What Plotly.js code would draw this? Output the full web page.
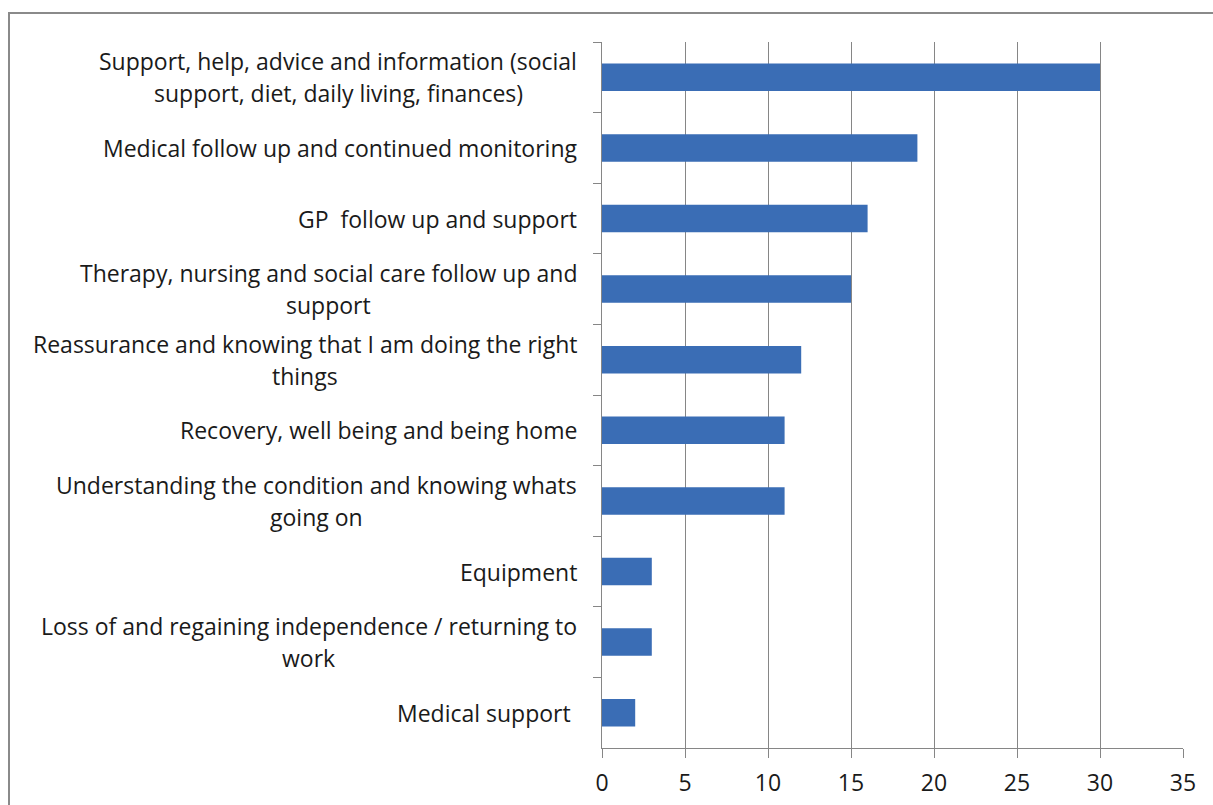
<!DOCTYPE html>
<html>
<head>
<meta charset="utf-8">
<script src="https://cdn.plot.ly/plotly-3.0.1.min.js"></script>
<style>
html,body{margin:0;padding:0;background:#fff;overflow:hidden;}
#chart{width:1213px;height:805px;}
</style>
</head>
<body>
<div id="chart"></div>
<script>
// Data
var categories = [
  "Support, help, advice and information (social\nsupport, diet, daily living, finances)",
  "Medical follow up and continued monitoring",
  "GP\u00a0 follow up and support",
  "Therapy, nursing and social care follow up and\nsupport",
  "Reassurance and knowing that I am doing the right\nthings",
  "Recovery, well being and being home",
  "Understanding the condition and knowing whats\ngoing on",
  "Equipment",
  "Loss of and regaining independence / returning to\nwork",
  "Medical support\u00a0"
];
var values = [30, 19, 16, 15, 12, 11, 11, 3, 3, 2];
var xTicks = [0, 5, 10, 15, 20, 25, 30, 35];

var ids = categories.map(function(c, i){ return "c" + i; });

var fontFam = "'Open Sans', sans-serif";
var fontSize = 23;
var textColor = "#1a1a1a";
var gray = "#868686";

var canvas = document.createElement("canvas");
var ctx = canvas.getContext("2d");
ctx.font = fontSize + "px 'Open Sans'";

var annotations = [];
var gapRight = 25; // px between label block and axis
categories.forEach(function(label, i){
  var lines = label.split("\n");
  var n = lines.length;
  var spacing = 32;
  var blockW = Math.max.apply(null, lines.map(function(l){ return ctx.measureText(l).width; }));
  lines.forEach(function(line, k){
    annotations.push({
      xref: "paper", yref: "y",
      x: 0, y: ids[i],
      xanchor: "center", yanchor: "middle",
      xshift: -(gapRight + blockW / 2),
      yshift: ((n - 1) / 2 - k) * spacing,
      text: line,
      showarrow: false,
      align: "center",
      font: {family: fontFam, size: fontSize, color: textColor}
    });
  });
});

var trace = {
  type: "bar",
  orientation: "h",
  x: values,
  y: ids,
  marker: {color: "#3a6db5", line: {width: 0}},
  hoverinfo: "x"
};

var layout = {
  width: 1213, height: 805,
  margin: {l: 602, r: 30, t: 42, b: 57, pad: 0},
  paper_bgcolor: "#fff", plot_bgcolor: "#fff",
  showlegend: false,
  bargap: 0.61,
  font: {family: fontFam, size: fontSize, color: textColor},
  xaxis: {
    range: [0, 35],
    tickvals: xTicks,
    ticktext: xTicks.map(String),
    showgrid: true, gridcolor: gray, gridwidth: 1,
    zeroline: false,
    showline: true, linecolor: gray, linewidth: 1,
    ticks: "outside", ticklen: 9, tickcolor: gray, tickwidth: 1,
    ticklabelstandoff: 5,
    tickfont: {family: fontFam, size: fontSize, color: textColor},
    fixedrange: true
  },
  yaxis: {
    type: "category",
    categoryorder: "array",
    categoryarray: ids,
    autorange: "reversed",
    showticklabels: false,
    tickson: "boundaries",
    ticks: "outside", ticklen: 8, tickcolor: gray, tickwidth: 1,
    showgrid: false, zeroline: false,
    showline: true, linecolor: gray, linewidth: 1,
    fixedrange: true
  },
  annotations: annotations,
  shapes: [{
    type: "rect", xref: "paper", yref: "paper",
    x0: (9 - 602) / 581, x1: 2,
    y0: -0.5, y1: (748 - 13) / 706,
    line: {color: "#8a8a8a", width: 2},
    fillcolor: "rgba(0,0,0,0)",
    layer: "below"
  }]
};

Plotly.newPlot("chart", [trace], layout, {displayModeBar: false, staticPlot: true});
</script>
</body>
</html>
